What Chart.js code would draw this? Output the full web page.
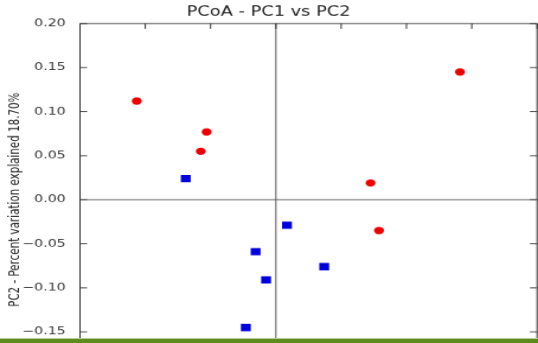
<!DOCTYPE html>
<html>
<head>
<meta charset="utf-8">
<script src="https://cdn.jsdelivr.net/npm/chart.js@4/dist/chart.umd.min.js"></script>
<style>
  html, body { margin: 0; padding: 0; background: #fff; overflow: hidden; }
  #stage { position: relative; width: 538px; height: 343px; overflow: hidden; }
  /* the source picture is stretched wide and squashed, so the chart is drawn
     at its own size and scaled the same way */
  #wrap { position: absolute; left: 0; top: 0; width: 454px; height: 392px;
          transform: scale(1.185, 0.875); transform-origin: 0 0; }
  #bar { position: absolute; left: 0; top: 338px; width: 538px; height: 5px;
         background: #5e8b1f; border-top: 1px solid #b9c9a0; box-sizing: border-box; }
</style>
</head>
<body>
<div id="stage">
  <div id="wrap"><canvas id="pcoa" width="454" height="392"></canvas></div>
  <div id="bar"></div>
</div>
<script>
// tick values
const xTicks = [-0.3, -0.2, -0.1, 0, 0.1, 0.2, 0.3, 0.4];
const yTicks = [-0.15, -0.10, -0.05, 0, 0.05, 0.10, 0.15, 0.20];

// red circles
const redPC1 = [-0.213, -0.106, -0.115, 0.282, 0.145, 0.158];
const redPC2 = [0.112, 0.077, 0.055, 0.145, 0.019, -0.035];

// blue squares
const bluePC1 = [-0.138, -0.031, -0.015, 0.017, 0.074, -0.046];
const bluePC2 = [0.024, -0.059, -0.091, -0.029, -0.076, -0.145];

const FONT = 'DejaVu Sans';

function zip(xs, ys) {
    return xs.map((x, i) => ({ x: x, y: ys[i] }));
}

function fmt(v) {
    return (v < 0 ? '\u2212' : '') + Math.abs(v).toFixed(2);
}

// box, inward ticks, zero lines and the y label (matplotlib look)
const framePlugin = {
    id: 'frame',
    beforeDatasetsDraw(chart) {
        const ctx = chart.ctx;
        const a = chart.chartArea;
        const xs = chart.scales.x;
        const ys = chart.scales.y;
        const tl = 6;

        ctx.save();
        // zero lines
        ctx.strokeStyle = '#555';
        ctx.lineWidth = 1;
        const x0 = xs.getPixelForValue(0);
        const y0 = ys.getPixelForValue(0);
        ctx.beginPath();
        ctx.moveTo(x0, a.top); ctx.lineTo(x0, a.bottom + 10);
        ctx.moveTo(a.left, y0); ctx.lineTo(a.right, y0);
        ctx.stroke();

        // spines
        ctx.strokeStyle = '#333';
        ctx.beginPath();
        ctx.moveTo(a.left, a.bottom + 10); ctx.lineTo(a.left, a.top);
        ctx.lineTo(a.right, a.top); ctx.lineTo(a.right, a.bottom + 10);
        ctx.stroke();

        // ticks
        ctx.beginPath();
        xTicks.forEach(v => {
            const px = xs.getPixelForValue(v);
            ctx.moveTo(px, a.top); ctx.lineTo(px, a.top + tl);
        });
        yTicks.forEach(v => {
            const py = ys.getPixelForValue(v);
            ctx.moveTo(a.left, py); ctx.lineTo(a.left + tl, py);
            ctx.moveTo(a.right, py); ctx.lineTo(a.right - tl, py);
        });
        ctx.stroke();

        // y axis label, centred on zero like the uncropped figure
        ctx.translate(12.5, y0);
        ctx.rotate(-Math.PI / 2);
        ctx.fillStyle = '#222';
        ctx.font = '11.8px "' + FONT + '"';
        ctx.textAlign = 'center';
        ctx.textBaseline = 'middle';
        ctx.fillText('PC2 - Percent variation explained 18.70%', 0, 0);
        ctx.restore();
    }
};

new Chart(document.getElementById('pcoa'), {
    type: 'scatter',
    data: {
        datasets: [{
            label: 'red',
            data: zip(redPC1, redPC2),
            pointStyle: 'circle',
            pointRadius: 4.2,
            pointHoverRadius: 4.2,
            backgroundColor: '#ee0000',
            borderWidth: 0
        }, {
            label: 'blue',
            data: zip(bluePC1, bluePC2),
            pointStyle: 'rect',
            pointRadius: 5.9,
            pointHoverRadius: 5.9,
            backgroundColor: '#0000dd',
            borderWidth: 0
        }]
    },
    options: {
        responsive: false,
        animation: false,
        devicePixelRatio: 1,
        layout: {
            autoPadding: false,
            padding: { left: 0, right: 0.8, top: 0, bottom: 5.7 }
        },
        plugins: {
            legend: { display: false },
            tooltip: { enabled: false },
            title: {
                display: true,
                text: 'PCoA - PC1 vs PC2',
                color: '#222',
                font: { family: FONT, size: 15, weight: 'normal' },
                padding: { top: 5.3, bottom: 3.6 }
            }
        },
        scales: {
            x: {
                type: 'linear',
                display: false,
                min: -0.3,
                max: 0.4
            },
            y: {
                type: 'linear',
                min: -0.157,
                max: 0.2,
                afterBuildTicks: s => { s.ticks = yTicks.map(v => ({ value: v })); },
                afterFit: s => {
                    s.width = 67.5;
                    // don't let the end labels push the plot area in
                    s.paddingTop = 0;
                    s.paddingBottom = 0;
                },
                grid: { display: false },
                border: { display: false },
                ticks: {
                    color: '#333',
                    padding: 4,
                    font: { family: FONT, size: 12 },
                    callback: v => fmt(v)
                }
            }
        }
    },
    plugins: [framePlugin]
});
</script>
</body>
</html>
